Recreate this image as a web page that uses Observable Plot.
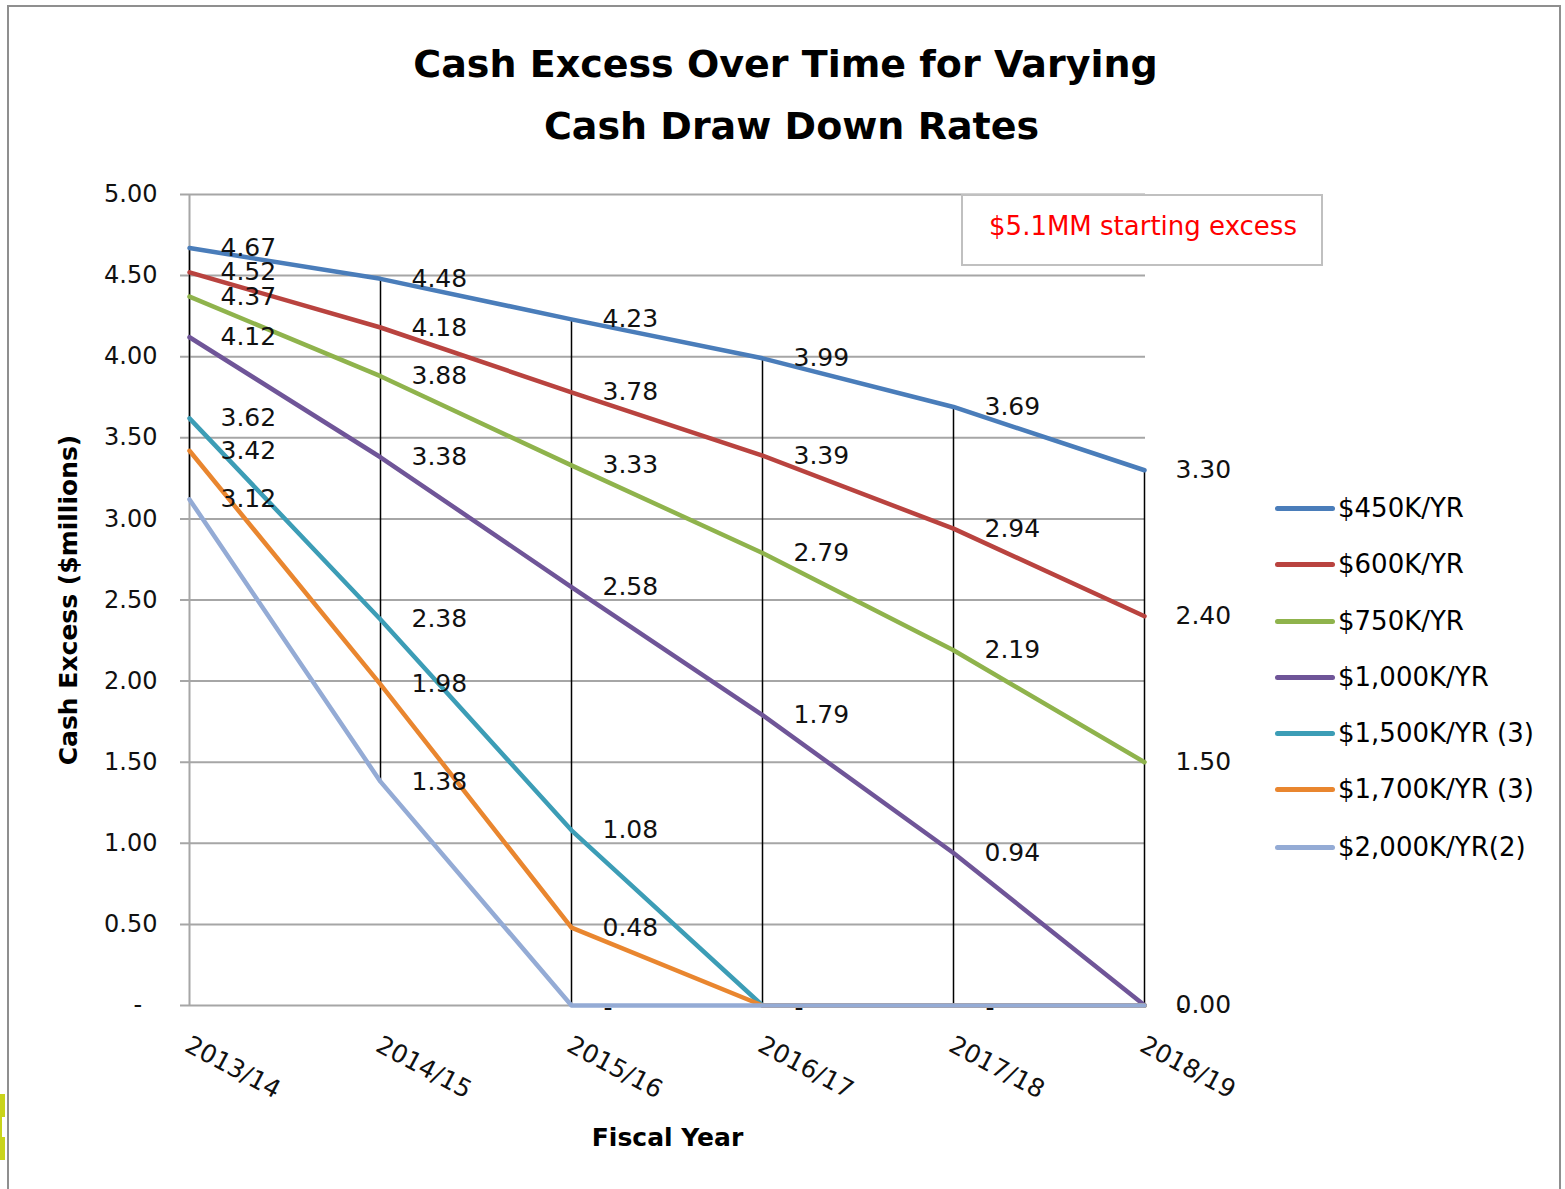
<!DOCTYPE html>
<html>
<head>
<meta charset="utf-8">
<script src="https://cdn.jsdelivr.net/npm/d3@7"></script>
<script src="https://cdn.jsdelivr.net/npm/@observablehq/plot@0.6"></script>
<style>
  body { margin: 0; background: #fff; }
  #wrap { position: relative; width: 1565px; height: 1189px; overflow: hidden; font-family: "DejaVu Sans", sans-serif; background: #fff; }
  #border { position: absolute; left: 7px; top: 5px; width: 1554px; height: 1230px; border: 2px solid #8f8f8f; box-sizing: border-box; }
  #chart { position: absolute; left: 0; top: 0; }
  #note { position: absolute; left: 961px; top: 194px; width: 362px; height: 72px; box-sizing: border-box; border: 2px solid #c0c0c0; background: #fff;
          color: #ff0000; font-size: 26px; display: flex; align-items: center; justify-content: center; white-space: nowrap; padding-bottom: 8px; padding-left: 2px; }
  #legend { position: absolute; left: 1275px; top: 0; }
  .lrow { position: absolute; left: 0; height: 40px; display: flex; align-items: center; white-space: nowrap; font-size: 26px; color: #000; }
  .lrow .sw { width: 60px; height: 5px; border-radius: 3px; margin-right: 3px; }
  .mark1 { position: absolute; left: 0; top: 1094px; width: 5px; height: 66px; background: #c9d41a; }
  .mark2 { position: absolute; left: 2px; top: 1117px; width: 4px; height: 20px; background: #fff; }
</style>
</head>
<body>
<div id="wrap">
  <div id="border"></div>
  <div class="mark1"></div><div class="mark2"></div>
  <div id="chart"></div>
  <div id="note">$5.1MM starting excess</div>
  <div id="legend"></div>
</div>
<script>
// ---- data ----
const years = ["2013/14", "2014/15", "2015/16", "2016/17", "2017/18", "2018/19"];
const seriesNames = ["$450K/YR", "$600K/YR", "$750K/YR", "$1,000K/YR", "$1,500K/YR (3)", "$1,700K/YR (3)", "$2,000K/YR(2)"];
const seriesColors = ["#4a7dba", "#b9433f", "#8fb34c", "#6f5598", "#3c9db6", "#e9862f", "#94abd5"];
const v450  = [4.67, 4.48, 4.23, 3.99, 3.69, 3.30];
const v600  = [4.52, 4.18, 3.78, 3.39, 2.94, 2.40];
const v750  = [4.37, 3.88, 3.33, 2.79, 2.19, 1.50];
const v1000 = [4.12, 3.38, 2.58, 1.79, 0.94, 0.001];
const v1500 = [3.62, 2.38, 1.08, 0, 0, 0];
const v1700 = [3.42, 1.98, 0.48, 0, 0, 0];
const v2000 = [3.12, 1.38, 0, 0, 0, 0];
const yTicks = [0, 0.5, 1, 1.5, 2, 2.5, 3, 3.5, 4, 4.5, 5];

const allSeries = [v450, v600, v750, v1000, v1500, v1700, v2000];
const rows = [];
allSeries.forEach((vals, si) => vals.forEach((v, i) => rows.push({series: seriesNames[si], year: years[i], value: v})));
const ranges = years.map((yr, i) => {
  const vs = allSeries.map(s => s[i]);
  return {year: yr, lo: d3.min(vs), hi: d3.max(vs)};
});
// zero-valued labels ("-") coincide at each year; keep one per year
const zeroRows = [];
const seenZero = new Set();
rows.forEach(d => { if (d.value === 0 && !seenZero.has(d.year)) { seenZero.add(d.year); zeroRows.push(d); } });
const fmtTick = d => d === 0 ? "-\u00A0\u00A0" : d.toFixed(2);

const chart = Plot.plot({
  width: 1565,
  height: 1189,
  marginLeft: 187,
  marginRight: 420,
  marginTop: 194,
  marginBottom: 184,
  x: {type: "point", domain: years, padding: 0, axis: null},
  y: {domain: [0, 5], axis: null},
  color: {domain: seriesNames, range: seriesColors},
  style: {fontFamily: "DejaVu Sans, sans-serif", fontSize: "25px", color: "#000", background: "transparent", overflow: "visible"},
  marks: [
    Plot.ruleY(yTicks, {stroke: "#a6a6a6", strokeWidth: 2, insetLeft: -7}),
    Plot.ruleX([years[0]], {stroke: "#a6a6a6", strokeWidth: 2}),
    Plot.ruleX(ranges, {x: "year", y1: "lo", y2: "hi", stroke: "#000", strokeWidth: 1.5}),
    Plot.line(rows, {x: "year", y: "value", z: "series", stroke: "series", strokeWidth: 4.5, strokeLinejoin: "round"}),
    Plot.text(rows.filter(d => d.value !== 0), {x: "year", y: "value", text: d => d.value.toFixed(2), textAnchor: "start", lineAnchor: "middle", dx: 31, fill: "#111", fontSize: 25}),
    Plot.text(zeroRows, {x: "year", y: "value", text: d => "-", textAnchor: "start", lineAnchor: "middle", dx: 32, dy: 2, fill: "#111", fontSize: 25}),
    Plot.text(yTicks, {y: d => d, text: fmtTick, frameAnchor: "left", textAnchor: "end", lineAnchor: "middle", dx: -30, fill: "#111", fontSize: 24}),
    Plot.text(years, {x: d => d, text: d => d, frameAnchor: "bottom", textAnchor: "start", lineAnchor: "top", rotate: 28, dx: 2, dy: 29, fill: "#111", fontSize: 25}),
    Plot.text(["Cash Excess Over Time for Varying"], {text: d => d, frameAnchor: "top", textAnchor: "middle", lineAnchor: "middle", dx: 119, dy: -130, fontSize: 38, fontWeight: "bold", fill: "#000"}),
    Plot.text(["Cash Draw Down Rates"], {text: d => d, frameAnchor: "top", textAnchor: "middle", lineAnchor: "middle", dx: 125, dy: -68, fontSize: 38, fontWeight: "bold", fill: "#000"}),
    Plot.text(["Cash Excess ($millions)"], {text: d => d, frameAnchor: "left", textAnchor: "middle", lineAnchor: "middle", dx: -119, rotate: -90, fontSize: 25, fontWeight: "bold", fill: "#000"}),
    Plot.text(["Fiscal Year"], {text: d => d, frameAnchor: "bottom", textAnchor: "middle", lineAnchor: "middle", dx: 1, dy: 132, fontSize: 25, fontWeight: "bold", fill: "#000"})
  ]
});
document.getElementById("chart").appendChild(chart);

// legend
const legend = document.getElementById("legend");
const legendY = [508, 564, 621, 677, 733, 789, 847];
seriesNames.forEach((name, i) => {
  const row = document.createElement("div");
  row.className = "lrow";
  row.style.top = (legendY[i] - 20) + "px";
  const sw = document.createElement("div");
  sw.className = "sw";
  sw.style.background = seriesColors[i];
  const lab = document.createElement("span");
  lab.textContent = name;
  row.appendChild(sw);
  row.appendChild(lab);
  legend.appendChild(row);
});
</script>
</body>
</html>
